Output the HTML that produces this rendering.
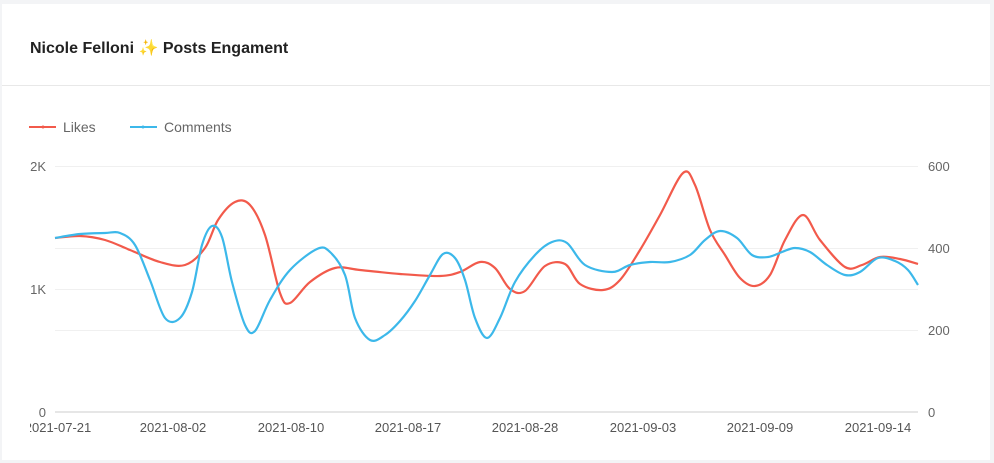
<!DOCTYPE html>
<html><head><meta charset="utf-8"><style>
html,body{margin:0;padding:0;background:#f3f4f6;width:994px;height:463px;overflow:hidden;font-family:"Liberation Sans","Noto Sans CJK SC",sans-serif}
.card{position:absolute;left:2px;top:4px;width:988px;height:456px;background:#fff}
.title{position:absolute;left:28px;top:34px;font-size:16px;color:#222;font-weight:600}
.sep{position:absolute;left:0;top:81px;width:988px;height:1px;background:#e8e8e8}
svg{position:absolute;left:0;top:0}
</style></head><body>
<div class="card"><div class="title">Nicole Felloni ✨ Posts Engament</div><div class="sep"></div></div>
<svg width="994" height="463" font-family="Liberation Sans, sans-serif">
<g stroke="#f0f0f0" stroke-width="1">
<line x1="55" x2="918" y1="166.5" y2="166.5"/><line x1="55" x2="918" y1="248.5" y2="248.5"/>
<line x1="55" x2="918" y1="289.5" y2="289.5"/><line x1="55" x2="918" y1="330.5" y2="330.5"/>
<line x1="55" x2="918" y1="412" y2="412" stroke="#e6e6e6" stroke-width="2"/></g>
<g fill="#666" font-size="13">
<text x="46" y="171" text-anchor="end">2K</text><text x="46" y="294" text-anchor="end">1K</text><text x="46" y="417" text-anchor="end">0</text>
<text x="928" y="171">600</text><text x="928" y="253">400</text><text x="928" y="335">200</text><text x="928" y="417">0</text>
</g>
<g fill="#555" font-size="13" text-anchor="middle">
<text x="58" y="432">2021-07-21</text><text x="173" y="432">2021-08-02</text><text x="291" y="432">2021-08-10</text><text x="408" y="432">2021-08-17</text><text x="525" y="432">2021-08-28</text><text x="643" y="432">2021-09-03</text><text x="760" y="432">2021-09-09</text><text x="878" y="432">2021-09-14</text>
</g>
<rect x="2" y="415" width="28" height="25" fill="#fff"/>
<line x1="29" x2="56" y1="127" y2="127" stroke="#f25a4b" stroke-width="2"/><circle cx="43" cy="127" r="1.5" fill="#f25a4b"/>
<text x="63" y="132" font-size="14" fill="#666">Likes</text>
<line x1="130" x2="157" y1="127" y2="127" stroke="#3cb8ea" stroke-width="2"/><circle cx="143" cy="127" r="1.5" fill="#3cb8ea"/>
<text x="164" y="132" font-size="14" fill="#666">Comments</text>
<path id="likes" fill="none" stroke="#f25a4b" stroke-width="2.2"/>
<path id="comm" fill="none" stroke="#3cb8ea" stroke-width="2.2"/>
</svg>
<script>
function sm(p){let d="M"+p[0][0]+","+p[0][1];for(let i=0;i<p.length-1;i++){const a=p[i-1]||p[i],b=p[i],c=p[i+1],e=p[i+2]||c;d+=" C"+(b[0]+(c[0]-a[0])/6)+","+(b[1]+(c[1]-a[1])/6)+" "+(c[0]-(e[0]-b[0])/6)+","+(c[1]-(e[1]-b[1])/6)+" "+c[0]+","+c[1];}return d;}
const L=[[55,238],[80,236],[105,240],[130,250],[160,262],[185,265],[205,248],[218,220],[235,202],[250,205],[265,235],[280,293],[290,303],[310,282],[335,268],[360,270],[400,274],[440,276],[460,272],[480,262],[495,268],[510,289],[525,291],[545,266],[565,264],[580,284],[603,290],[620,280],[640,250],[660,215],[683,173],[695,185],[710,230],[725,255],[740,278],[755,286],[770,275],[785,240],[803,215],[820,240],[845,267],[862,265],[880,257],[900,259],[918,264]];
const C=[[55,238],[80,234],[105,233],[120,233],[135,245],[150,280],[165,318],[180,318],[192,292],[202,245],[212,226],[222,237],[232,282],[245,325],[255,331],[270,300],[290,270],[317,249],[330,252],[345,275],[355,318],[370,340],[385,335],[400,321],[415,301],[430,275],[443,254],[455,258],[465,280],[475,318],[487,338],[500,318],[515,282],[535,255],[552,242],[567,243],[585,265],[612,272],[630,265],[650,262],[670,262],[690,255],[705,240],[720,231],[737,238],[752,255],[768,257],[782,252],[795,248],[810,252],[827,265],[845,275],[860,272],[878,258],[895,261],[908,270],[918,285]];
document.getElementById("likes").setAttribute("d",sm(L));
document.getElementById("comm").setAttribute("d",sm(C));
</script>
</body></html>
